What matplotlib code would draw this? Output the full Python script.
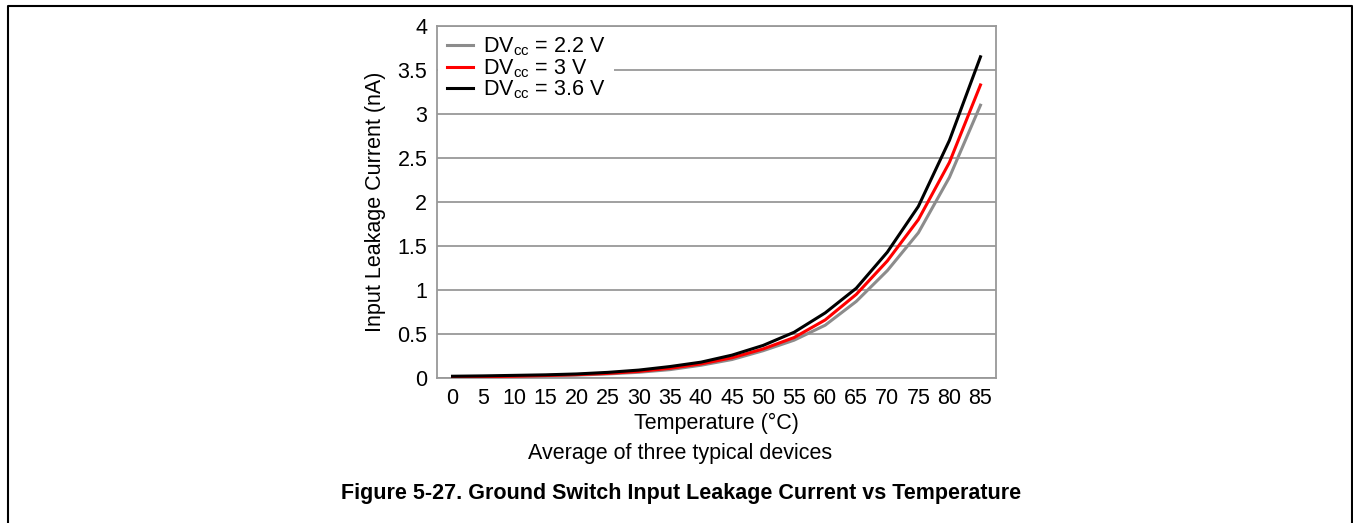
import matplotlib.pyplot as plt
from matplotlib.lines import Line2D

plt.rcParams.update({
    'font.family': ['Liberation Sans', 'DejaVu Sans'],
    'font.size': 15.5,
    'mathtext.fontset': 'custom',
    'mathtext.rm': 'Liberation Sans',
})

temps = [0, 5, 10, 15, 20, 25, 30, 35, 40, 45, 50, 55, 60, 65, 70, 75, 80, 85]
i_22 = [0.01, 0.012, 0.018, 0.024, 0.033, 0.046, 0.065, 0.095, 0.145, 0.21, 0.31, 0.43, 0.60, 0.87, 1.22, 1.65, 2.28, 3.10]
i_30 = [0.012, 0.015, 0.02, 0.028, 0.038, 0.052, 0.075, 0.11, 0.16, 0.23, 0.33, 0.46, 0.66, 0.95, 1.33, 1.80, 2.45, 3.33]
i_36 = [0.02, 0.024, 0.03, 0.036, 0.046, 0.064, 0.09, 0.13, 0.18, 0.26, 0.37, 0.52, 0.74, 1.02, 1.43, 1.95, 2.70, 3.65]
series = [
    ('DV$_{\\mathregular{cc}}$ = 2.2 V', i_22, '#8c8c8c'),
    ('DV$_{\\mathregular{cc}}$ = 3 V', i_30, '#ff0000'),
    ('DV$_{\\mathregular{cc}}$ = 3.6 V', i_36, '#000000'),
]
y_ticks = [0, 0.5, 1, 1.5, 2, 2.5, 3, 3.5, 4]
y_labels = ['0', '0.5', '1', '1.5', '2', '2.5', '3', '3.5', '4']

W, H = 1353, 523
fig = plt.figure(figsize=(W / 100, H / 100), dpi=100)
ax = fig.add_axes([437 / W, 1 - 378 / H, (996 - 437) / W, (378 - 26) / H])

for label, vals, color in series:
    ax.plot(temps, vals, color=color, linewidth=2.2, label=label, zorder=3)

ax.set_xlim(-2.5, 87.5)
ax.set_ylim(0, 4)
ax.set_xticks(temps)
ax.set_xticklabels([str(t) for t in temps])
ax.set_yticks(y_ticks)
ax.set_yticklabels(y_labels)
ax.tick_params(axis='y', length=0, pad=7)
ax.tick_params(axis='x', length=0, pad=7)
ax.grid(axis='y', color='#999999', linewidth=1.3, zorder=1)
ax.set_axisbelow(True)
for sp in ax.spines.values():
    sp.set_color('#999999')
    sp.set_linewidth(1.3)

ax.set_xlabel('Temperature (°C)', labelpad=3)
ax.set_ylabel('Input Leakage Current (nA)', labelpad=8)

leg = ax.legend(loc='upper left', bbox_to_anchor=(0.0, 1.0), frameon=True,
                handlelength=1.2, handletextpad=0.5, labelspacing=-0.05,
                borderpad=0.2, borderaxespad=0.25, fontsize=15.5)
leg.get_frame().set_facecolor('white')
leg.get_frame().set_edgecolor('none')
leg.get_frame().set_alpha(1)
leg.get_frame().set_boxstyle('square', pad=0.2)

fig.text(680 / W, 1 - 453 / H, 'Average of three typical devices',
         ha='center', va='center', fontsize=15.5)
fig.text(681 / W, 1 - 494 / H,
         'Figure 5-27. Ground Switch Input Leakage Current vs Temperature',
         ha='center', va='center', fontsize=15.5, fontweight='bold')

# page frame
fig.add_artist(Line2D([8 / W, 8 / W, 1352 / W, 1352 / W],
                      [0, 1 - 6 / H, 1 - 6 / H, 0],
                      transform=fig.transFigure, color='black', linewidth=1.5))

fig.savefig('out.png', dpi=100, facecolor='white')
